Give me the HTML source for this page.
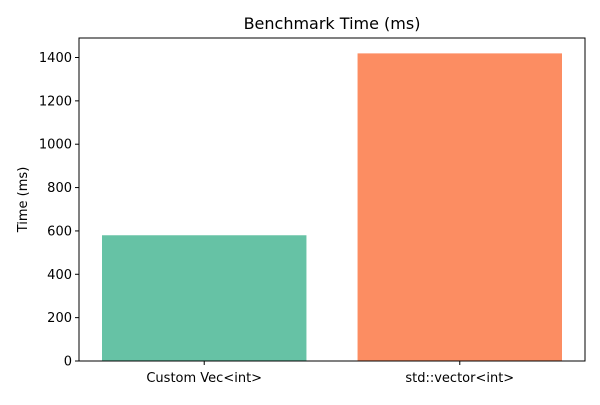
<!DOCTYPE html>
<html><head><meta charset="utf-8"><style>
body{margin:0;background:#fff;font-family:"Liberation Sans","DejaVu Sans",sans-serif}
svg text{font-family:"DejaVu Sans","Liberation Sans",sans-serif;fill:#000}
</style></head><body>
<svg id="c" width="600" height="400" xmlns="http://www.w3.org/2000/svg">
<text x="332" y="29" font-size="16" text-anchor="middle">Benchmark Time (ms)</text>
<text transform="translate(27,199.5) rotate(-90)" font-size="13" text-anchor="middle">Time (ms)</text>
<g id="marks"></g>
<rect x="79" y="38" width="506" height="323" fill="none" stroke="#000" stroke-width="1"/>
</svg>
<script>
const categories=["Custom Vec<int>","std::vector<int>"];
const times=[580,1419];
const colors=["#66c2a5","#fc8d62"];
const yTicks=[0,200,400,600,800,1000,1200,1400];
const L=79,R=585,T=38,B=361;
const ymax=Math.max(...times)*1.05;
const y=v=>B-(v/ymax)*(B-T);
const xmin=-0.49,xmax=categories.length-1+0.49;
const x=i=>L+(i-xmin)/(xmax-xmin)*(R-L);
const ns="http://www.w3.org/2000/svg";
const g=document.getElementById('marks');
function mk(t,a){const e=document.createElementNS(ns,t);for(const k in a)e.setAttribute(k,a[k]);g.appendChild(e);return e;}
times.forEach((v,i)=>{
  const w=x(0.4)-x(0);
  const r=mk('rect',{x:x(i)-w,y:y(v),width:2*w,height:B-y(v),fill:colors[i]});
  
  
  const tk=mk('line',{x1:x(i),x2:x(i),y1:B,y2:B+4,stroke:'#000'});
  
  
  const t=mk('text',{x:x(i),y:B+21,'font-size':13,'text-anchor':'middle'});
  t.textContent=categories[i];
  
  
});
yTicks.forEach(v=>{
  const tk=mk('line',{x1:L-4,x2:L,y1:y(v),y2:y(v),stroke:'#000'});
  
  
  const t=mk('text',{x:L-7,y:y(v)+4.5,'font-size':13,'text-anchor':'end'});
  t.textContent=v;
  
  
});
</script>
</body></html>
